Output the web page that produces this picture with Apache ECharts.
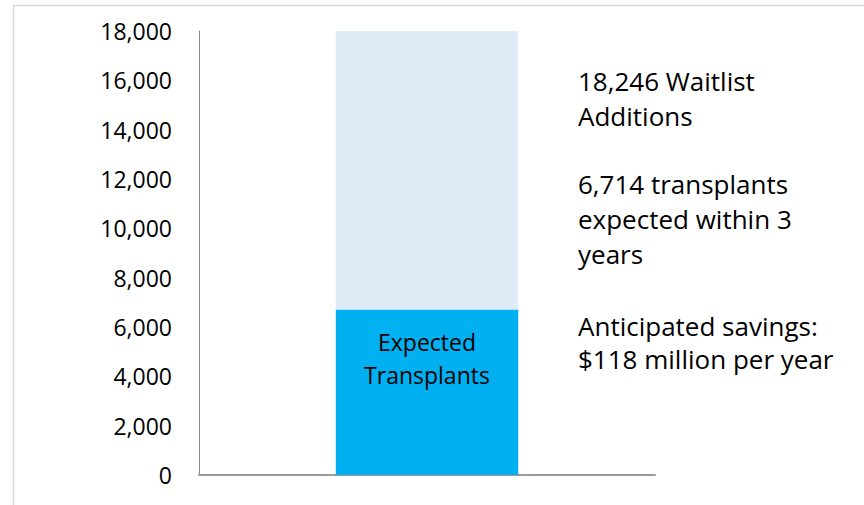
<!DOCTYPE html>
<html>
<head>
<meta charset="utf-8">
<script src="https://cdn.jsdelivr.net/npm/echarts@6/dist/echarts.min.js"></script>
<style>
html,body{margin:0;padding:0;background:#fff;}
#chart{width:864px;height:505px;}
</style>
</head>
<body>
<div id="chart"></div>
<script>
// ---- data ----
const categories = [''];
const expectedTransplants = [6714];
const waitlistAdditions = [18246];
const yMin = 0;
const yMax = 18000;
const yInterval = 2000;
const barLabel = 'Expected\nTransplants';
const noteWaitlist = '18,246 Waitlist\nAdditions';
const noteTransplants = '6,714 transplants\nexpected within 3\nyears';
const noteSavings = 'Anticipated savings:\n$118 million per year';

const remaining = waitlistAdditions.map((v, i) => v - expectedTransplants[i]);

const FONT = 'Open Sans';
const chart = echarts.init(document.getElementById('chart'), null, {renderer: 'svg'});
chart.setOption({
  animation: false,
  backgroundColor: '#ffffff',
  grid: {left: 199, top: 31, right: 209, bottom: 30, containLabel: false},
  xAxis: {
    type: 'category',
    data: categories,
    axisLine: {show: true, lineStyle: {color: '#9a9a9a', width: 2}},
    axisTick: {show: false},
    axisLabel: {show: false},
    splitLine: {show: false}
  },
  yAxis: {
    type: 'value',
    min: yMin,
    max: yMax,
    interval: yInterval,
    axisLine: {show: true, lineStyle: {color: '#868686', width: 1}},
    axisTick: {show: false},
    splitLine: {show: false},
    axisLabel: {
      margin: 27,
      fontFamily: FONT,
      fontSize: 23,
      color: '#000',
      formatter: v => v.toLocaleString('en-US')
    }
  },
  series: [
    {
      type: 'bar',
      stack: 'total',
      data: expectedTransplants,
      barWidth: '40%',
      itemStyle: {color: '#00B0F0'},
      label: {
        show: true,
        position: 'insideTop',
        distance: 16,
        formatter: barLabel,
        fontFamily: FONT,
        fontSize: 23,
        lineHeight: 33,
        color: '#000'
      },
      clip: true
    },
    {
      type: 'bar',
      stack: 'total',
      data: remaining,
      barWidth: '40%',
      itemStyle: {color: '#DEEAF6'},
      clip: true
    }
  ],
  graphic: [
    {
      type: 'rect',
      shape: {x: 13.5, y: 5.5, width: 900, height: 600},
      style: {fill: 'none', stroke: '#d9d9d9', lineWidth: 1.5},
      silent: true, z: -10
    },
    {
      type: 'text', left: 578, top: 63,
      style: {text: noteWaitlist, fontFamily: FONT, fontSize: 26, lineHeight: 35, fill: '#000'}
    },
    {
      type: 'text', left: 578, top: 166,
      style: {text: noteTransplants, fontFamily: FONT, fontSize: 26, lineHeight: 35, fill: '#000'}
    },
    {
      type: 'text', left: 578, top: 309,
      style: {text: noteSavings, fontFamily: FONT, fontSize: 26, lineHeight: 33, fill: '#000'}
    }
  ]
});
</script>
</body>
</html>
